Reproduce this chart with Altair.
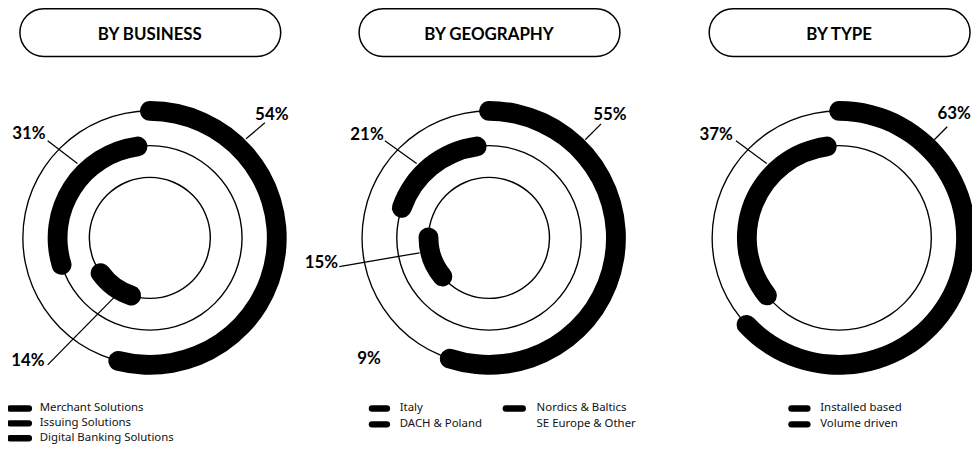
import math
import altair as alt
import pandas as pd

# ---------------- data ----------------
titles = ["BY BUSINESS", "BY GEOGRAPHY", "BY TYPE"]

business_labels = ["Merchant Solutions", "Issuing Solutions", "Digital Banking Solutions"]
business_values = [54, 31, 14]

geography_labels = ["Italy", "DACH & Poland", "Nordics & Baltics", "SE Europe & Other"]
geography_values = [55, 21, 15, 9]

type_labels = ["Installed based", "Volume driven"]
type_values = [63, 37]

panels = [
    (titles[0], business_labels, business_values),
    (titles[1], geography_labels, geography_values),
    (titles[2], type_labels, type_values),
]

# ---------------- layout (page pixels) ----------------
M = 8                     # page margin
W, H = 972, 436
centers = [(151, 238), (493, 238), (846, 238)]
RADII = [128, 93, 61]
THICK = 20
n_rings = [3, 3, 2]       # thin guide circles per panel
n_arcs = [3, 3, 2]        # thick arcs per panel (4th geography share is the gap)

# percentage label centres / leader lines relative to panel centre
label_off = [
    [(123, -124), (-122, -105), (-123, 124)],
    [(122, -124), (-123, -104), (-169, 25), (-121, 122)],
    [(116, -125), (-124, -104)],
]
leader_off = [
    [(97, -100, 116, -116), (-73, -75, -103, -98), (-36, 60, -103, 128)],
    [(97, -99, 113, -115), (-73, -75, -105, -98), (-70, 15, -151, 29), None],
    [(96, -99, 109, -112), (-73, -75, -104, -98)],
]
pill_off = (-131, 132, 7, 55)   # x0, x1 relative to centre; y0, y1 absolute
title_y = 33

legend_pos = [
    [(10, 29, 40, 410), (10, 29, 40, 425), (10, 29, 40, 440)],
    [(375, 390, 403, 410), (375, 390, 403, 426), (510, 527, 541, 410), (510, 527, 541, 426)],
    [(798, 814, 827, 410), (798, 814, 827, 426)],
]

# ---------------- build tables ----------------
arc_rows, ring_rows, lab_rows, lead_rows, pill_rows, title_rows = [], [], [], [], [], []
sw_rows, leg_rows = [], []

for p, (title, cats, vals) in enumerate(panels):
    cx, cy = centers[p]
    cx, cy = cx - M, cy - M
    # thin circles
    for k in range(n_rings[p]):
        r = RADII[k]
        ring_rows.append(dict(cx=cx, cy=cy, r_in=r - 0.7, r_out=r + 0.7, t0=0.0, t1=1.0))
    # thick arcs (degrees, clockwise from 12 o'clock)
    mid_start = None
    for k in range(n_arcs[p]):
        r = RADII[k]
        span = vals[k] * 3.6
        if k == 0:
            pad = math.degrees((THICK / 2) / r)
            a0, a1 = -pad, span + pad
        elif k == 1:
            a1 = -1.5
            a0 = a1 - span
            mid_start = a0
        else:
            a1 = mid_start - 3
            a0 = a1 - span - 5
        arc_rows.append(dict(cx=cx, cy=cy, r_in=r - THICK / 2, r_out=r + THICK / 2,
                             t0=a0 / 360.0, t1=a1 / 360.0))
    # percentage labels + leader lines
    for k, v in enumerate(vals):
        dx, dy = label_off[p][k]
        lab_rows.append(dict(x=cx + dx, y=cy + dy, text=f"{v}%"))
        ld = leader_off[p][k]
        if ld is not None:
            lead_rows.append(dict(x=cx + ld[0], y=cy + ld[1], x2=cx + ld[2], y2=cy + ld[3]))
    # title pill
    pill_rows.append(dict(x=cx + pill_off[0], x2=cx + pill_off[1],
                          y=pill_off[2] - M, y2=pill_off[3] - M))
    title_rows.append(dict(x=cx, y=title_y - M, text=title))
    # legend
    for k, c in enumerate(cats):
        sx0, sx1, tx, ly = legend_pos[p][k]
        colr = "black" if k < n_arcs[p] else "white"
        sw_rows.append(dict(x=sx0 - M, x2=sx1 - M, y=ly - M, c=colr))
        leg_rows.append(dict(x=tx - M, y=ly - M, text=c))

arcs = pd.DataFrame(arc_rows)
rings = pd.DataFrame(ring_rows)
labs = pd.DataFrame(lab_rows)
leads = pd.DataFrame(lead_rows)
pills = pd.DataFrame(pill_rows)
ttl = pd.DataFrame(title_rows)
sws = pd.DataFrame(sw_rows)
legs = pd.DataFrame(leg_rows)

X = lambda f: alt.X(f, scale=None, axis=None)
Y = lambda f: alt.Y(f, scale=None, axis=None)
theta_scale = alt.Scale(domain=[-1, 1], range=[-2 * math.pi, 2 * math.pi])


def arc_layer(df, **mark):
    return alt.Chart(df).mark_arc(**mark).encode(
        x=X("cx:Q"), y=Y("cy:Q"),
        theta=alt.Theta("t0:Q", scale=theta_scale),
        theta2="t1:Q",
        radius=alt.Radius("r_out:Q", scale=None),
        radius2="r_in:Q",
    )


ring_layer = arc_layer(rings, color="black")
thick_layer = arc_layer(arcs, color="black", cornerRadius=THICK / 2)

lead_layer = alt.Chart(leads).mark_rule(color="black", strokeWidth=1.3).encode(
    x=X("x:Q"), y=Y("y:Q"), x2="x2:Q", y2="y2:Q")

lab_layer = alt.Chart(labs).mark_text(
    font="Lato", fontWeight="bold", fontSize=17, color="black",
    align="center", baseline="middle").encode(x=X("x:Q"), y=Y("y:Q"), text="text:N")

pill_layer = alt.Chart(pills).mark_rect(
    cornerRadius=24, fill="white", stroke="black", strokeWidth=1.5).encode(
    x=X("x:Q"), x2="x2:Q", y=Y("y:Q"), y2="y2:Q")

title_layer = alt.Chart(ttl).mark_text(
    font="Lato", fontWeight="bold", fontSize=17, color="black",
    align="center", baseline="middle").encode(x=X("x:Q"), y=Y("y:Q"), text="text:N")

sw_layer = alt.Chart(sws).mark_rule(strokeWidth=6.5, strokeCap="round").encode(
    x=X("x:Q"), x2="x2:Q", y=Y("y:Q"), color=alt.Color("c:N", scale=None))

leg_layer = alt.Chart(legs).mark_text(
    font="Noto Sans", fontSize=11.5, color="#111111",
    align="left", baseline="middle").encode(x=X("x:Q"), y=Y("y:Q"), text="text:N")

chart = alt.layer(
    ring_layer, thick_layer, lead_layer, lab_layer,
    pill_layer, title_layer, sw_layer, leg_layer,
).properties(
    width=W, height=H, padding=0,
    autosize=alt.AutoSizeParams(type="none"),
    background="white",
).configure_view(strokeWidth=0)

chart.save("out.html", embed_options={"renderer": "svg", "actions": False})
